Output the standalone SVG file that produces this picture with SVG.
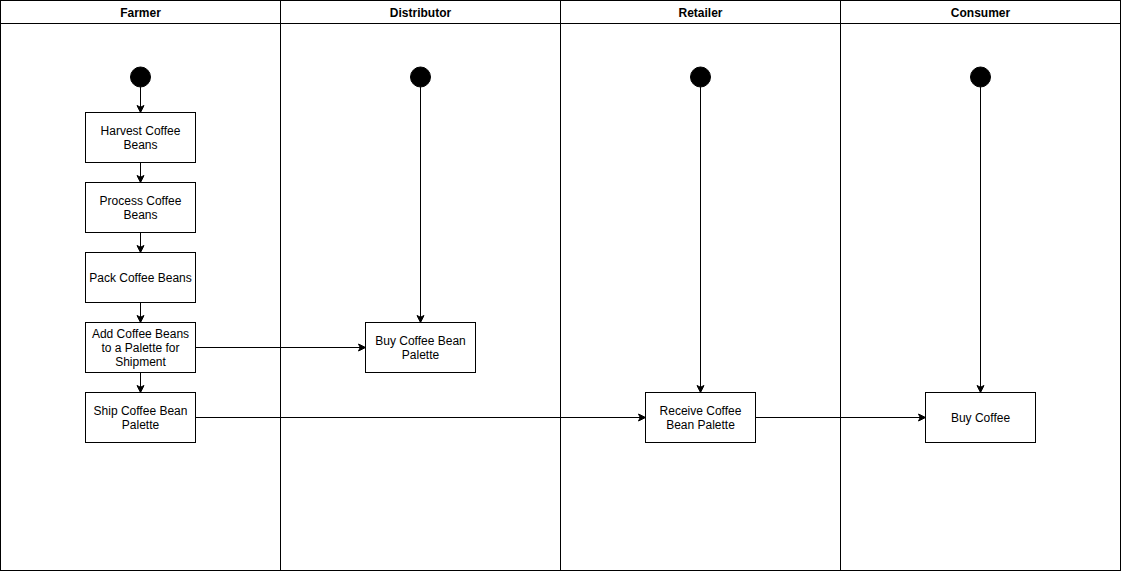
<svg xmlns="http://www.w3.org/2000/svg" width="1121" height="572" viewBox="0 0 1121 572">
  <style>
    .lane { fill: none; stroke: #000; stroke-width: 1; }
    .title { font-family: "Liberation Sans", Arial, Helvetica, sans-serif; font-size: 12px; font-weight: bold; fill: #000; text-anchor: middle; }
    .box { fill: #fff; stroke: #000; stroke-width: 1; }
    .label { font-family: "Liberation Sans", Arial, Helvetica, sans-serif; font-size: 12px; fill: #000; text-anchor: middle; }
    .start { fill: #000; stroke: #000; }
    .edge { fill: none; stroke: #000; stroke-width: 1; marker-end: url(#arrow); }
  </style>
  <defs>
    <marker id="arrow" markerUnits="userSpaceOnUse" markerWidth="10" markerHeight="10" viewBox="-8 -5 10 10" refX="0" refY="0" orient="auto">
      <path d="M0,0 L-7,-3.5 L-5.25,0 L-7,3.5 Z" fill="#000" stroke="#000" stroke-width="1"/>
    </marker>
  </defs>
  <rect width="1121" height="572" fill="#fff"/>

  <!-- swimlanes -->
  <g id="lane-farmer">
    <rect class="lane" x="0.5" y="0.5" width="280" height="570"/>
    <line class="lane" x1="0.5" y1="23.5" x2="280.5" y2="23.5"/>
    <text class="title" x="140.5" y="17">Farmer</text>
  </g>
  <g id="lane-distributor">
    <rect class="lane" x="280.5" y="0.5" width="280" height="570"/>
    <line class="lane" x1="280.5" y1="23.5" x2="560.5" y2="23.5"/>
    <text class="title" x="420.5" y="17">Distributor</text>
  </g>
  <g id="lane-retailer">
    <rect class="lane" x="560.5" y="0.5" width="280" height="570"/>
    <line class="lane" x1="560.5" y1="23.5" x2="840.5" y2="23.5"/>
    <text class="title" x="700.5" y="17">Retailer</text>
  </g>
  <g id="lane-consumer">
    <rect class="lane" x="840.5" y="0.5" width="280" height="570"/>
    <line class="lane" x1="840.5" y1="23.5" x2="1120.5" y2="23.5"/>
    <text class="title" x="980.5" y="17">Consumer</text>
  </g>

  <!-- connectors -->
  <g id="connectors">
    <line class="edge" x1="140.5" y1="87" x2="140.5" y2="112.5"/>
    <line class="edge" x1="140.5" y1="162.5" x2="140.5" y2="182.5"/>
    <line class="edge" x1="140.5" y1="232.5" x2="140.5" y2="252.5"/>
    <line class="edge" x1="140.5" y1="302.5" x2="140.5" y2="322.5"/>
    <line class="edge" x1="140.5" y1="372.5" x2="140.5" y2="392.5"/>
    <line class="edge" x1="195.5" y1="347.5" x2="365.5" y2="347.5"/>
    <line class="edge" x1="195.5" y1="417.5" x2="645.5" y2="417.5"/>
    <line class="edge" x1="755.5" y1="417.5" x2="925.5" y2="417.5"/>
    <line class="edge" x1="420.5" y1="87" x2="420.5" y2="322.5"/>
    <line class="edge" x1="700.5" y1="87" x2="700.5" y2="392.5"/>
    <line class="edge" x1="980.5" y1="87" x2="980.5" y2="392.5"/>
  </g>

  <!-- start points -->
  <g id="start-farmer"><circle class="start" cx="140.5" cy="77" r="10"/></g>
  <g id="start-distributor"><circle class="start" cx="420.5" cy="77" r="10"/></g>
  <g id="start-retailer"><circle class="start" cx="700.5" cy="77" r="10"/></g>
  <g id="start-consumer"><circle class="start" cx="980.5" cy="77" r="10"/></g>

  <!-- activities -->
  <g id="harvest">
    <rect class="box" x="85.5" y="112.5" width="110" height="50"/>
    <text class="label" x="140.5" y="135">Harvest Coffee</text>
    <text class="label" x="140.5" y="149">Beans</text>
  </g>
  <g id="process">
    <rect class="box" x="85.5" y="182.5" width="110" height="50"/>
    <text class="label" x="140.5" y="205">Process Coffee</text>
    <text class="label" x="140.5" y="219">Beans</text>
  </g>
  <g id="pack">
    <rect class="box" x="85.5" y="252.5" width="110" height="50"/>
    <text class="label" x="140.5" y="282">Pack Coffee Beans</text>
  </g>
  <g id="add-to-palette">
    <rect class="box" x="85.5" y="322.5" width="110" height="50"/>
    <text class="label" x="140.5" y="338">Add Coffee Beans</text>
    <text class="label" x="140.5" y="352">to a Palette for</text>
    <text class="label" x="140.5" y="366">Shipment</text>
  </g>
  <g id="ship">
    <rect class="box" x="85.5" y="392.5" width="110" height="50"/>
    <text class="label" x="140.5" y="415">Ship Coffee Bean</text>
    <text class="label" x="140.5" y="429">Palette</text>
  </g>
  <g id="buy-palette">
    <rect class="box" x="365.5" y="322.5" width="110" height="50"/>
    <text class="label" x="420.5" y="345">Buy Coffee Bean</text>
    <text class="label" x="420.5" y="359">Palette</text>
  </g>
  <g id="receive">
    <rect class="box" x="645.5" y="392.5" width="110" height="50"/>
    <text class="label" x="700.5" y="415">Receive Coffee</text>
    <text class="label" x="700.5" y="429">Bean Palette</text>
  </g>
  <g id="buy-coffee">
    <rect class="box" x="925.5" y="392.5" width="110" height="50"/>
    <text class="label" x="980.5" y="422">Buy Coffee</text>
  </g>
</svg>
